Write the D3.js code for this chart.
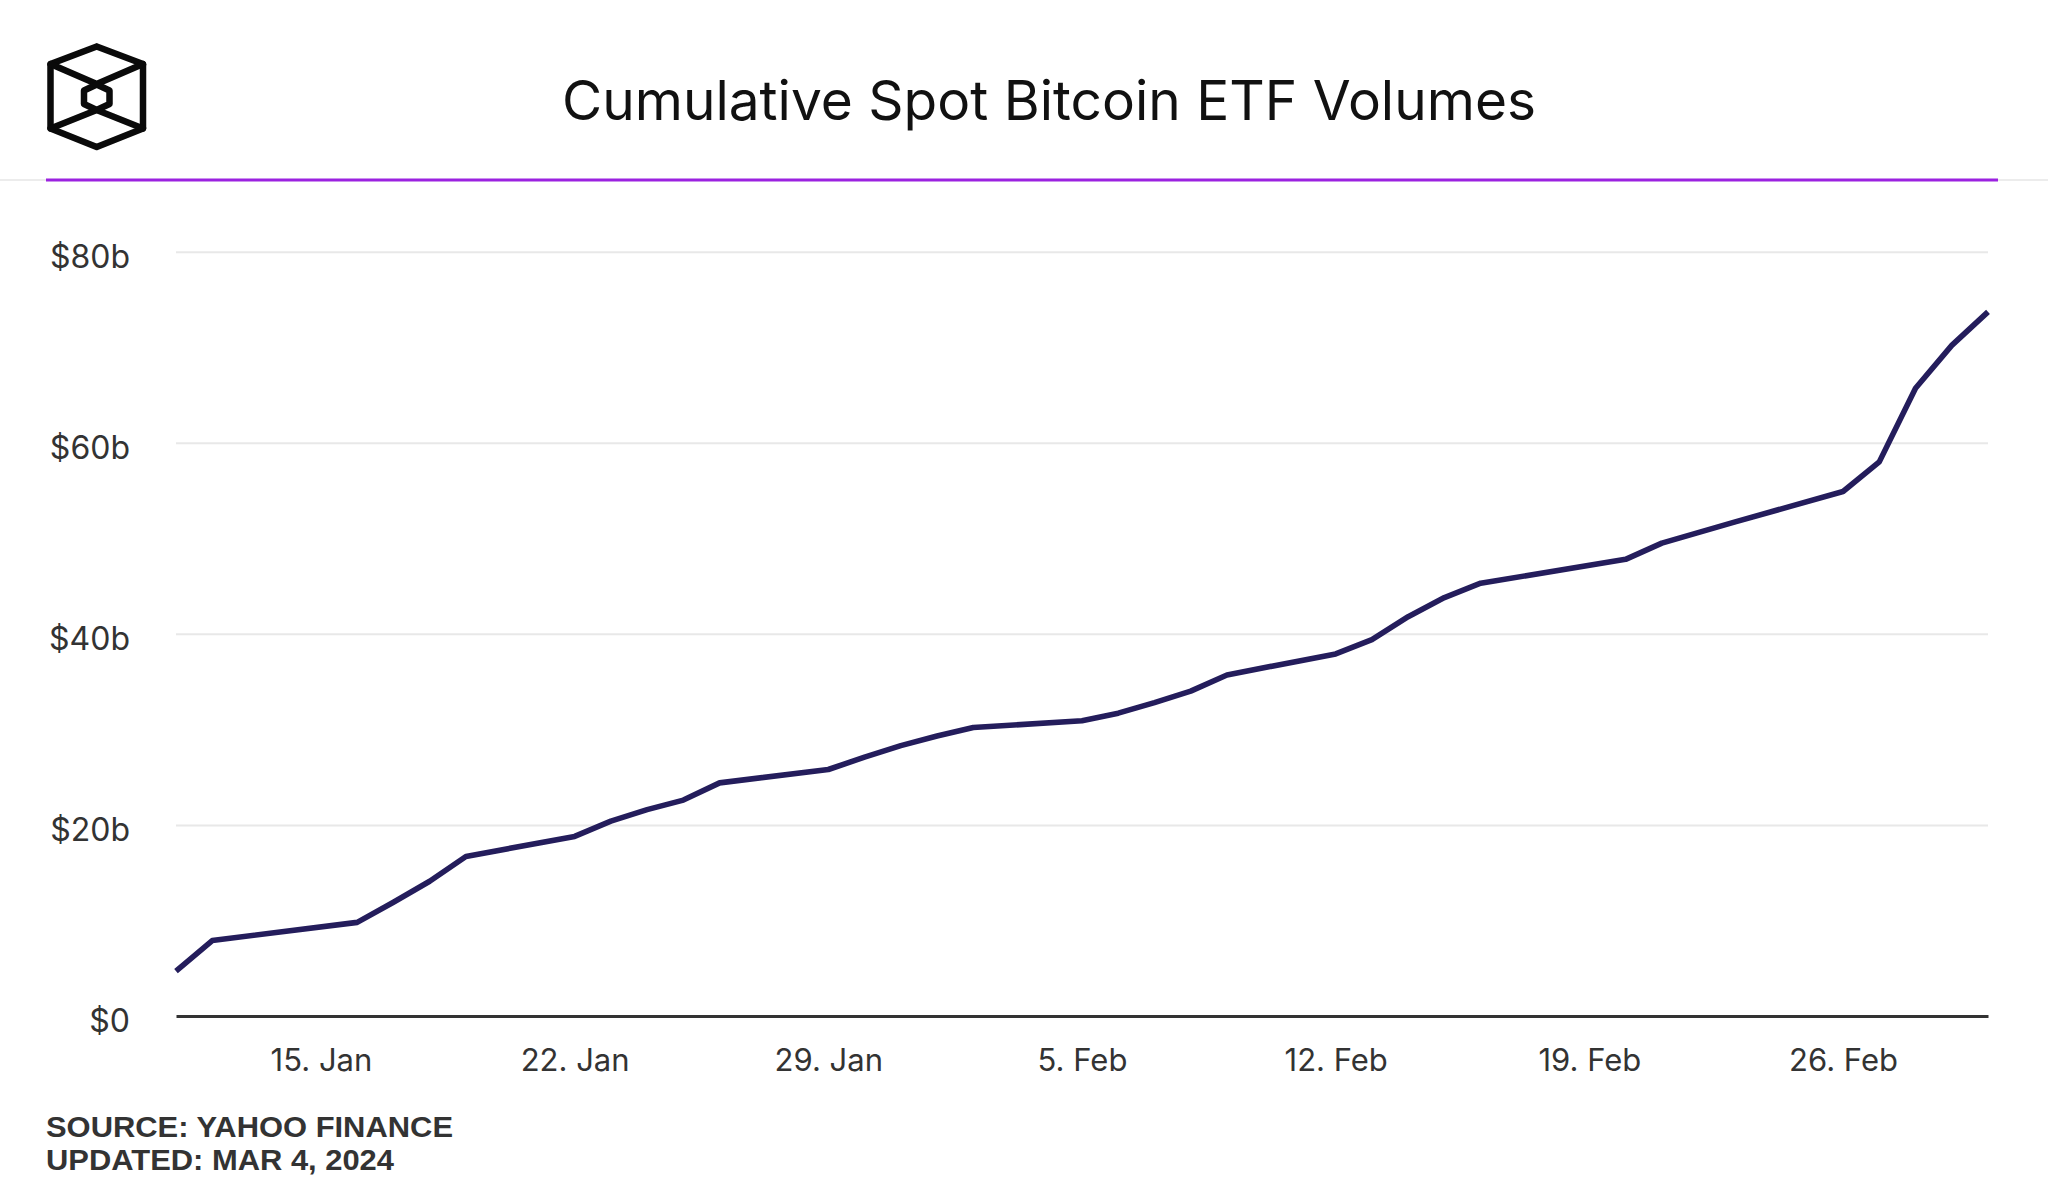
<!DOCTYPE html>
<html>
<head>
<meta charset="utf-8">
<script src="https://cdn.jsdelivr.net/npm/d3@7"></script>
<style>
  html, body { margin: 0; padding: 0; background: #ffffff; }
  svg { display: block; }
</style>
</head>
<body>
<svg id="chart" width="2048" height="1194"></svg>
<script>
// ---- Data ----
const dates = [
  "2024-01-11","2024-01-12","2024-01-16","2024-01-17","2024-01-18","2024-01-19",
  "2024-01-22","2024-01-23","2024-01-24","2024-01-25","2024-01-26",
  "2024-01-29","2024-01-30","2024-01-31","2024-02-01","2024-02-02",
  "2024-02-05","2024-02-06","2024-02-07","2024-02-08","2024-02-09",
  "2024-02-12","2024-02-13","2024-02-14","2024-02-15","2024-02-16",
  "2024-02-20","2024-02-21","2024-02-22","2024-02-23",
  "2024-02-26","2024-02-27","2024-02-28","2024-02-29","2024-03-01"
];
const cumulativeVolumeB = [
  4.7, 7.9, 9.8, 11.9, 14.1, 16.7,
  18.8, 20.4, 21.6, 22.6, 24.4,
  25.8, 27.1, 28.3, 29.3, 30.2,
  30.9, 31.7, 32.8, 34.0, 35.7,
  37.9, 39.4, 41.8, 43.8, 45.3,
  47.8, 49.5, 50.6, 51.7,
  54.9, 58.0, 65.7, 70.2, 73.7
];
const yTicks = [0, 20, 40, 60, 80];
const yTickLabels = ["$0", "$20b", "$40b", "$60b", "$80b"];
const xTickDates = ["2024-01-15","2024-01-22","2024-01-29","2024-02-05","2024-02-12","2024-02-19","2024-02-26"];
const xTickLabels = ["15. Jan","22. Jan","29. Jan","5. Feb","12. Feb","19. Feb","26. Feb"];
const titleText = "Cumulative Spot Bitcoin ETF Volumes";
const sourceLines = ["SOURCE: YAHOO FINANCE", "UPDATED: MAR 4, 2024"];

// ---- Layout ----
const W = 2048, H = 1194;
const plot = { left: 176, right: 1988, top: 251.7, bottom: 1016 };
const parse = d3.utcParse("%Y-%m-%d");
const series = dates.map((d, i) => ({ date: parse(d), value: cumulativeVolumeB[i] }));

const svg = d3.select("#chart");
svg.append("rect").attr("width", W).attr("height", H).attr("fill", "#ffffff");

// Logo (isometric cube)
const logo = svg.append("g")
  .attr("fill", "none").attr("stroke", "#0a0a0a")
  .attr("stroke-width", 6.5).attr("stroke-linejoin", "round").attr("stroke-linecap", "round");
const cx = 96.7;
logo.append("path").attr("d", d3.line()([[cx,46.5],[143,64],[143,128.5],[cx,147],[50.5,128.5],[50.5,64],[cx,46.5]]));
logo.append("path").attr("d", d3.line()([[50.5,64],[cx,84],[143,64]]));
logo.append("path").attr("d", d3.line()([[50.5,128.5],[cx,110],[143,128.5]]));
logo.append("path").attr("d", d3.line()([[cx,84.5],[109.5,90.5],[109.5,104],[cx,110],[84,104],[84,90.5],[cx,84.5]]));

// Title
const title = svg.append("text")
  .attr("x", 1049).attr("y", 120)
  .attr("text-anchor", "middle")
  .attr("font-family", "Inter, 'Noto Sans', sans-serif")
  .attr("font-size", 55)
  .attr("fill", "#111111")
  .text(titleText);
title.attr("textLength", 974).attr("lengthAdjust", "spacingAndGlyphs");

// Header rule
svg.append("line").attr("x1", 0).attr("x2", W).attr("y1", 180).attr("y2", 180)
  .attr("stroke", "#ececec").attr("stroke-width", 2);
svg.append("line").attr("x1", 46).attr("x2", 1998).attr("y1", 180).attr("y2", 180)
  .attr("stroke", "#9b22e0").attr("stroke-width", 3);

// Scales
const x = d3.scaleUtc()
  .domain([parse("2024-01-11"), parse("2024-03-01")])
  .range([plot.left, plot.right]);
const y = d3.scaleLinear().domain([0, 80]).range([plot.bottom, plot.top]);

// Grid lines + y labels
const yAxis = d3.axisLeft(y)
  .tickValues(yTicks)
  .tickSize(-(plot.right - plot.left))
  .tickFormat((d, i) => yTickLabels[i]);
const gy = svg.append("g").attr("transform", `translate(${plot.left},0)`).call(yAxis);
gy.select(".domain").remove();
gy.selectAll(".tick line").attr("stroke", "#e8e8e8").attr("stroke-width", 2)
  .filter(d => d === 0).remove();
gy.selectAll(".tick text")
  .attr("x", -46).attr("dy", "0.86em").attr("y", -12)
  .attr("text-anchor", "end")
  .attr("font-family", "Inter, 'Noto Sans', sans-serif")
  .attr("font-size", 32)
  .attr("fill", "#333333");

// X axis
const xAxis = d3.axisBottom(x)
  .tickValues(xTickDates.map(parse))
  .tickSize(0)
  .tickFormat((d, i) => xTickLabels[i]);
const gx = svg.append("g").attr("transform", `translate(0,${plot.bottom})`).call(xAxis);
gx.select(".domain").attr("stroke", "#333333").attr("stroke-width", 3.2);
gx.selectAll(".tick text")
  .attr("y", 33).attr("dy", "0.71em")
  .attr("font-family", "Inter, 'Noto Sans', sans-serif")
  .attr("font-size", 31)
  .attr("fill", "#333333");

// Line
const line = d3.line().x(d => x(d.date)).y(d => y(d.value));
svg.append("path")
  .datum(series)
  .attr("fill", "none")
  .attr("stroke", "#241d5c")
  .attr("stroke-width", 5.6)
  .attr("stroke-linejoin", "round")
  .attr("d", line);

// Source / updated
const src = svg.append("g")
  .attr("font-family", "'Liberation Sans', Arial, sans-serif")
  .attr("font-weight", "bold")
  .attr("font-size", 29)
  .attr("fill", "#333333");
src.append("text").attr("x", 46).attr("y", 1137).text(sourceLines[0])
  .attr("textLength", 407).attr("lengthAdjust", "spacingAndGlyphs");
src.append("text").attr("x", 46).attr("y", 1170).text(sourceLines[1])
  .attr("textLength", 348).attr("lengthAdjust", "spacingAndGlyphs");
</script>
</body>
</html>
